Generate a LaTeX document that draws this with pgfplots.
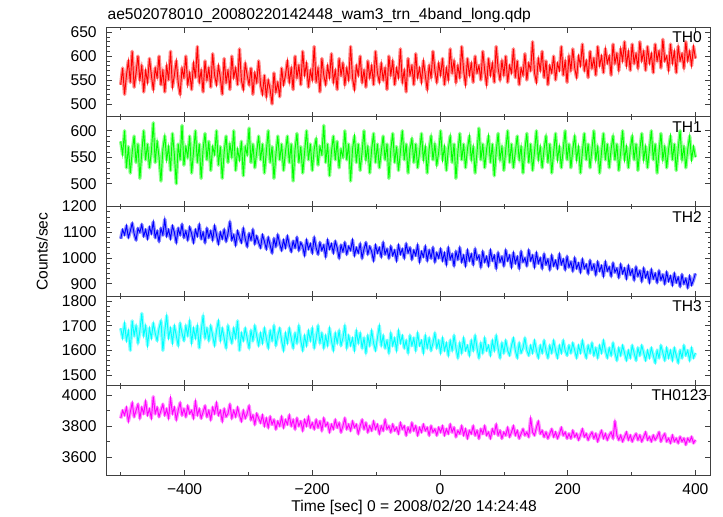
\documentclass[border=0pt]{standalone}
\usepackage{pgfplots}
\usepackage{pgfplotstable}
\pgfplotsset{compat=1.18}
\usepackage{fontspec}
\setmainfont{Liberation Sans}
\newcommand{\fs}{\fontsize{11.7}{14}\selectfont}
\definecolor{cR}{rgb}{1,0,0}
\definecolor{cG}{rgb}{0,1,0}
\definecolor{cB}{rgb}{0,0,1}
\definecolor{cC}{rgb}{0,1,1}
\definecolor{cM}{rgb}{1,0,1}
\definecolor{lR}{rgb}{1,0.55,0.55}
\definecolor{lG}{rgb}{0.55,1,0.55}
\definecolor{lB}{rgb}{0.55,0.55,1}
\definecolor{lC}{rgb}{0.55,1,1}
\definecolor{lM}{rgb}{1,0.55,1}
\pgfplotstableread{
t a b c d e
-500 540 580 1075 1690 3850
-497 575 555 1110 1650 3900
-494 520 600 1090 1710 3870
-491 560 530 1125 1640 3920
-488 590 570 1080 1680 3830
-485 545 520 1105 1600 3890
-482 610 560 1135 1720 3950
-479 535 590 1095 1660 3860
-476 565 540 1070 1700 3900
-473 600 575 1115 1630 3940
-470 550 510 1100 1680 3850
-467 580 560 1130 1750 3920
-464 525 600 1085 1660 3880
-461 570 545 1110 1700 3960
-458 545 575 1075 1620 3870
-455 595 530 1120 1690 3910
-452 560 560 1095 1650 3850
-449 530 615 1140 1710 3990
-446 575 540 1080 1670 3880
-443 555 580 1105 1640 3920
-440 600 550 1065 1690 3860
-437 540 505 1115 1720 3900
-434 570 565 1090 1600 3940
-431 525 590 1150 1680 3870
-428 580 545 1085 1740 3910
-425 550 570 1110 1650 3850
-422 610 525 1075 1690 3980
-419 535 595 1125 1630 3880
-416 560 555 1100 1700 3920
-413 590 500 1060 1660 3840
-410 545 575 1115 1620 3900
-407 520 545 1090 1710 3950
-404 575 610 1130 1670 3870
-401 555 535 1080 1640 3910
-398 600 570 1105 1700 3860
-395 540 550 1070 1660 3930
-392 565 590 1120 1720 3880
-389 530 520 1095 1630 3900
-386 585 560 1060 1690 3850
-383 555 600 1110 1650 3960
-380 620 540 1085 1700 3870
-377 545 575 1130 1610 3910
-374 570 510 1075 1680 3850
-371 525 565 1100 1740 3890
-368 590 595 1060 1650 3930
-365 550 545 1115 1690 3860
-362 575 580 1080 1640 3900
-359 535 525 1105 1700 3840
-356 605 570 1070 1660 3920
-353 560 555 1125 1620 3880
-350 540 600 1090 1680 3950
-347 580 535 1055 1720 3870
-344 555 570 1100 1640 3900
-341 520 510 1075 1690 3830
-338 595 560 1110 1650 3910
-335 545 590 1065 1610 3860
-332 570 540 1095 1700 3880
-329 530 575 1140 1660 3940
-326 600 550 1070 1630 3850
-323 555 600 1090 1690 3900
-320 575 525 1050 1650 3860
-317 540 565 1105 1720 3920
-314 615 545 1080 1600 3870
-311 550 580 1060 1670 3830
-308 530 515 1115 1640 3900
-305 585 570 1075 1690 3850
-302 560 555 1045 1650 3880
-299 540 605 1095 1610 3930
-296 575 540 1070 1680 3840
-293 520 575 1110 1640 3870
-290 565 530 1055 1700 3810
-287 545 560 1085 1660 3880
-284 590 590 1060 1620 3850
-281 540 545 1040 1670 3820
-278 520 575 1090 1630 3870
-275 560 520 1065 1690 3800
-272 515 560 1035 1650 3850
-269 550 600 1080 1610 3790
-266 530 540 1050 1680 3860
-263 500 570 1020 1640 3810
-260 565 510 1075 1700 3840
-257 525 555 1045 1620 3780
-254 545 590 1090 1660 3830
-251 515 545 1055 1690 3800
-248 575 575 1030 1640 3860
-245 540 525 1070 1600 3790
-242 560 560 1040 1670 3840
-239 590 590 1085 1630 3810
-236 545 540 1050 1690 3870
-233 575 575 1025 1650 3800
-230 530 505 1065 1610 3840
-227 600 565 1040 1670 3780
-224 555 595 1080 1630 3850
-221 580 540 1030 1700 3800
-218 540 570 1060 1640 3830
-215 610 520 1045 1600 3770
-212 560 560 1010 1660 3840
-209 585 600 1070 1620 3800
-206 535 545 1035 1680 3860
-203 570 575 1055 1640 3790
-200 550 525 1020 1690 3820
-197 620 565 1080 1610 3780
-194 545 585 1040 1650 3840
-191 575 535 1015 1700 3790
-188 525 570 1060 1630 3830
-185 595 555 1030 1670 3770
-182 560 610 1050 1610 3850
-179 540 540 1005 1660 3800
-176 580 575 1070 1620 3820
-173 555 515 1035 1690 3760
-170 605 560 1055 1640 3810
-167 545 590 1020 1600 3780
-164 570 545 1065 1670 3840
-161 530 580 1040 1630 3790
-158 595 530 1000 1680 3820
-155 560 565 1050 1620 3760
-152 585 550 1025 1650 3800
-149 540 600 1060 1700 3850
-146 575 545 1015 1610 3780
-143 550 575 1045 1660 3810
-140 620 505 1030 1620 3770
-137 555 565 1070 1650 3830
-134 530 590 1010 1600 3790
-131 580 540 1040 1680 3810
-128 560 575 1020 1630 3750
-125 600 525 1055 1670 3800
-122 545 560 1000 1610 3840
-119 570 600 1035 1650 3780
-116 535 545 1060 1590 3820
-113 590 570 1015 1660 3760
-110 555 520 1045 1620 3800
-107 580 565 1025 1680 3770
-104 540 595 990 1630 3830
-101 610 540 1050 1600 3780
-98 565 575 1020 1650 3810
-95 545 530 1040 1700 3750
-92 585 560 1005 1620 3800
-89 550 590 1060 1660 3770
-86 575 545 1015 1610 3840
-83 530 575 1035 1640 3780
-80 600 510 1000 1590 3800
-77 560 565 1045 1670 3760
-74 590 595 1010 1620 3810
-71 540 540 1030 1650 3770
-68 575 570 990 1600 3790
-65 555 525 1050 1680 3750
-62 615 560 1015 1630 3820
-59 545 600 1035 1660 3780
-56 570 545 1000 1610 3800
-53 525 575 1055 1640 3740
-50 595 520 1020 1590 3790
-47 560 565 1040 1660 3760
-44 580 585 995 1620 3820
-41 540 540 1030 1650 3770
-38 605 575 1010 1600 3800
-35 555 530 1050 1670 3740
-32 575 560 985 1620 3790
-29 545 595 1025 1640 3760
-26 590 545 1005 1590 3810
-23 560 570 1045 1660 3770
-20 530 520 990 1610 3790
-17 580 565 1030 1650 3740
-14 555 590 1000 1600 3800
-11 610 545 1040 1630 3760
-8 570 575 985 1670 3780
-5 545 535 1020 1610 3740
-2 585 560 1000 1640 3790
1 560 600 1035 1590 3760
4 595 545 990 1650 3800
7 540 570 1020 1600 3740
10 575 525 975 1630 3780
13 550 565 1040 1580 3750
16 615 590 995 1640 3810
19 565 540 1015 1600 3760
22 590 575 970 1660 3790
25 545 510 1025 1610 3730
28 580 560 995 1570 3770
31 555 595 1040 1630 3750
34 620 545 985 1590 3800
37 570 575 1010 1650 3740
40 540 530 970 1600 3780
43 595 565 1030 1620 3720
46 560 590 990 1580 3770
49 585 545 1015 1640 3750
52 545 570 975 1600 3800
55 600 520 1035 1660 3740
58 565 560 995 1610 3770
61 580 605 1010 1570 3720
64 550 545 965 1630 3780
67 610 575 1025 1590 3750
70 570 530 985 1650 3800
73 540 565 1005 1600 3740
76 595 590 970 1620 3760
79 560 540 1030 1580 3720
82 585 575 990 1640 3780
85 545 515 1010 1600 3750
88 620 560 960 1660 3810
91 575 595 1020 1610 3740
94 550 545 985 1570 3770
97 590 570 1005 1630 3720
100 560 525 970 1590 3760
103 600 565 1030 1640 3740
106 545 600 990 1600 3790
109 580 540 1010 1580 3730
112 565 575 965 1620 3760
115 615 530 1020 1650 3800
118 555 560 980 1600 3740
121 590 590 1005 1570 3770
124 540 545 960 1630 3720
127 575 570 1025 1590 3750
130 560 520 985 1610 3780
133 605 565 1000 1650 3740
136 550 595 970 1600 3760
139 585 540 1030 1580 3730
142 570 575 990 1620 3850
145 630 525 1010 1590 3760
148 565 560 965 1640 3740
151 545 600 1020 1600 3790
154 595 545 980 1570 3830
157 570 570 1000 1620 3750
160 610 530 960 1590 3770
163 555 565 1015 1640 3730
166 590 590 975 1600 3760
169 540 540 995 1570 3720
172 580 575 955 1620 3750
175 565 520 1010 1590 3780
178 600 560 970 1640 3730
181 550 595 990 1600 3760
184 585 545 960 1570 3720
187 570 570 1015 1620 3750
190 620 530 975 1590 3790
193 560 565 995 1640 3740
196 590 600 955 1600 3760
199 545 545 1005 1580 3720
202 600 575 965 1620 3750
205 570 530 985 1590 3720
208 615 565 950 1630 3770
211 575 590 1000 1600 3730
214 555 545 960 1570 3750
217 600 570 980 1620 3710
220 580 520 945 1590 3740
223 625 560 995 1640 3780
226 570 595 960 1600 3730
229 590 545 975 1570 3750
232 555 575 940 1620 3710
235 610 530 990 1590 3740
238 575 565 955 1630 3760
241 595 600 975 1580 3720
244 560 545 935 1610 3750
247 620 570 985 1570 3700
250 580 520 950 1620 3740
253 600 560 970 1590 3770
256 565 595 930 1640 3720
259 615 545 985 1600 3750
262 585 575 950 1570 3710
265 600 530 965 1610 3740
268 560 565 930 1580 3760
271 625 590 980 1630 3720
274 585 545 945 1590 3830
277 605 575 960 1560 3740
280 570 525 925 1610 3710
283 615 560 975 1580 3740
286 590 600 940 1620 3700
289 630 545 960 1590 3730
292 580 570 920 1560 3760
295 610 530 970 1600 3710
298 570 565 935 1570 3740
301 625 590 955 1620 3700
304 585 545 915 1590 3730
307 605 575 965 1560 3750
310 575 525 930 1610 3710
313 630 565 950 1580 3740
316 590 595 910 1620 3700
319 610 545 960 1590 3730
322 570 570 925 1560 3760
325 620 530 945 1600 3710
328 585 565 905 1570 3730
331 605 600 955 1610 3700
334 565 545 920 1580 3740
337 625 575 940 1550 3710
340 590 520 905 1600 3730
343 610 560 950 1570 3760
346 575 595 915 1620 3700
349 635 545 935 1590 3730
352 590 570 900 1560 3750
355 600 530 945 1610 3700
358 570 565 910 1570 3720
361 625 590 930 1600 3690
364 585 545 895 1560 3740
367 610 575 940 1610 3700
370 565 525 905 1580 3720
373 620 565 925 1550 3690
376 590 600 890 1600 3730
379 605 545 935 1570 3700
382 575 570 900 1620 3720
385 630 530 920 1580 3680
388 590 565 885 1600 3720
391 610 590 930 1560 3700
394 580 545 895 1610 3730
397 620 570 915 1570 3690
400 595 550 940 1590 3710
}\tbl
\pgfplotsset{
  panel/.style={
    scale only axis, width=453pt, height=67.2pt,
    xmin=-522, xmax=424,
    xtick={-400,-200,0,200,400},
    minor xtick={-500,-300,-100,100,300},
    xticklabels={},
    tick align=inside, xtick pos=both, ytick pos=both,
    major tick length=4pt, minor tick length=2.2pt,
    axis line style={line width=0.8pt, black!75},
    major tick style={black!75, line width=0.6pt},
    minor tick style={black!75, line width=0.5pt},
    tick label style={font=\fs},
    yticklabel style={xshift=-4pt},
    /pgf/number format/assume math mode=true,
    /pgf/number format/1000 sep={},
    scaled ticks=false,
  },
  halo/.style={draw=#1, line width=2.6pt, line join=round, no markers},
  main/.style={draw=#1, line width=0.7pt, no markers},
}
\tikzset{lab/.style={anchor=north east, inner sep=0pt, font=\fs}}
\begin{document}
\begin{tikzpicture}
\path (-80pt,20.5pt) rectangle (462.2pt,-366.5pt);
\begin{axis}[panel, name=p1, at={(0,0)}, anchor=north west,
  ymin=473, ymax=660, ytick={500,550,600,650}, minor y tick num=4]
\addplot[halo=lR] table[x=t,y=a]{\tbl};
\addplot[main=cR] table[x=t,y=a]{\tbl};
\node[lab] at (rel axis cs:1,1) [xshift=-6.5pt, yshift=-3.3pt] {TH0};
\end{axis}
\begin{axis}[panel, name=p2, at={(p1.south west)}, anchor=north west,
  ymin=457, ymax=626, ytick={500,550,600}, minor y tick num=4]
\addplot[halo=lG] table[x=t,y=b]{\tbl};
\addplot[main=cG] table[x=t,y=b]{\tbl};
\node[lab] at (rel axis cs:1,1) [xshift=-6.5pt, yshift=-3.3pt] {TH1};
\end{axis}
\begin{axis}[panel, name=p3, at={(p2.south west)}, anchor=north west,
  ymin=852, ymax=1200, ytick={900,1000,1100,1200}, minor y tick num=4]
\addplot[halo=lB] table[x=t,y=c]{\tbl};
\addplot[main=cB] table[x=t,y=c]{\tbl};
\node[lab] at (rel axis cs:1,1) [xshift=-6.5pt, yshift=-3.3pt] {TH2};
\end{axis}
\begin{axis}[panel, name=p4, at={(p3.south west)}, anchor=north west,
  ymin=1457, ymax=1820, ytick={1500,1600,1700,1800}, minor y tick num=4]
\addplot[halo=lC] table[x=t,y=d]{\tbl};
\addplot[main=cC] table[x=t,y=d]{\tbl};
\node[lab] at (rel axis cs:1,1) [xshift=-6.5pt, yshift=-3.3pt] {TH3};
\end{axis}
\begin{axis}[panel, name=p5, at={(p4.south west)}, anchor=north west,
  ymin=3481, ymax=4060, ytick={3600,3800,4000}, minor y tick num=1,
  xticklabels={−400,−200,0,200,400},
  xticklabel style={yshift=-2.8pt}]
\addplot[halo=lM] table[x=t,y=e]{\tbl};
\addplot[main=cM] table[x=t,y=e]{\tbl};
\node[lab] at (rel axis cs:1,1) [xshift=-2.5pt, yshift=-2.5pt] {TH0123};
\end{axis}
\node[anchor=base west, inner sep=0pt, font=\fs] at (0.5pt,5.5pt)
  {ae502078010\_20080220142448\_wam3\_trn\_4band\_long.qdp};
\node[rotate=90, inner sep=0pt, font=\fs] at (-48.5pt,-168.2pt) {Counts/sec};
\node[anchor=base, inner sep=0pt, font=\fs] at (230.5pt,-363.2pt)
  {Time [sec] 0 = 2008/02/20 14:24:48};
\end{tikzpicture}
\end{document}
